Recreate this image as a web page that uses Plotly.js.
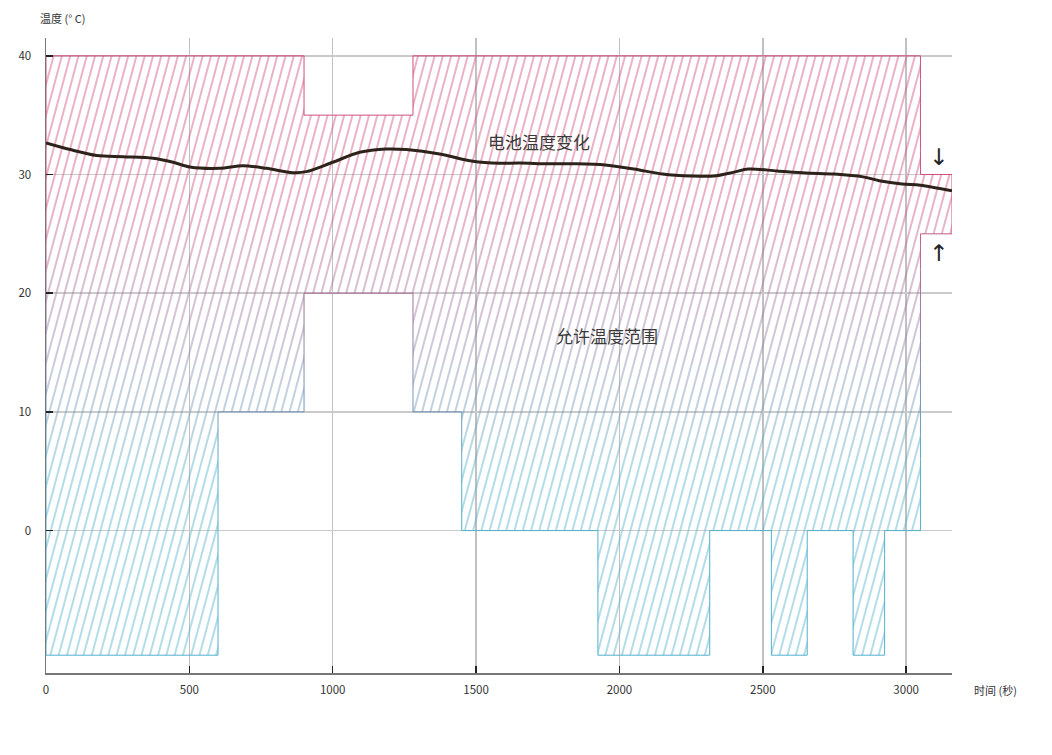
<!DOCTYPE html>
<html>
<head>
<meta charset="utf-8">
<script src="https://cdn.plot.ly/plotly-3.0.1.min.js"></script>
<style>
  html, body { margin: 0; padding: 0; background: #ffffff; }
  #chart { width: 1052px; height: 755px; }
</style>
</head>
<body>
<div id="chart"></div>
<script>
// ---------------- data ----------------
// battery temperature curve
const timeSec = [0, 84, 177, 269, 374, 443, 502, 606, 687, 769, 861, 908, 1000, 1094, 1187, 1257, 1373, 1489, 1581, 1651, 1750, 1850, 1950, 2050, 2150, 2250, 2330, 2400, 2450, 2550, 2650, 2750, 2850, 2906, 2986, 3050, 3160];
const batteryTemp = [32.66, 32.1, 31.6, 31.5, 31.37, 31.03, 30.63, 30.52, 30.74, 30.52, 30.15, 30.24, 31.03, 31.87, 32.15, 32.1, 31.73, 31.11, 30.94, 30.97, 30.9, 30.9, 30.8, 30.46, 30.04, 29.87, 29.87, 30.2, 30.46, 30.3, 30.13, 30.04, 29.8, 29.48, 29.2, 29.1, 28.63];

// allowed temperature range (step segments)
const rangeEdges = [0, 600, 900, 1280, 1450, 1925, 2315, 2530, 2655, 2815, 2925, 3050, 3160];
const rangeUpper = [40, 40, 35, 40, 40, 40, 40, 40, 40, 40, 40, 30];
const rangeLower = [-10.5, 10, 20, 10, 0, -10.5, 0, -10.5, 0, -10.5, 0, 25];

// axes
const xTicks = [0, 500, 1000, 1500, 2000, 2500, 3000];
const yTicks = [0, 10, 20, 30, 40];
const xRange = [0, 3160];
const yRange = [-12, 41.5];

// labels
const labelCurve = '电池温度变化';
const labelRange = '允许温度范围';
const yTitle = '温度 (° C)';
const xTitle = '时间 (秒)';

// ---------------- styling helpers ----------------
const PINK = [208, 78, 128];
const CYAN = [82, 176, 204];
function colorAt(y) {
  let t = (y - 5) / (28 - 5);
  t = Math.max(0, Math.min(1, t));
  const c = CYAN.map((v, i) => Math.round(v * (1 - t) + PINK[i] * t));
  return 'rgb(' + c.join(',') + ')';
}

const BAND = 2;
const bands = [];
for (let lo = -12; lo < 42; lo += BAND) bands.push([lo, lo + BAND]);

const traces = [];
const nSeg = rangeUpper.length;

// hatched fill, split into horizontal colour bands
bands.forEach(([lo, hi]) => {
  const xs = [], ys = [];
  let i = 0;
  while (i < nSeg) {
    const run = [];
    while (i < nSeg) {
      const a = Math.max(rangeLower[i], lo), b = Math.min(rangeUpper[i], hi);
      if (b > a) { run.push([i, a, b]); i++; } else { i++; break; }
    }
    if (run.length) {
      const startX = rangeEdges[run[0][0]], startY = run[0][2];
      run.forEach(([k, a, b]) => { xs.push(rangeEdges[k], rangeEdges[k + 1]); ys.push(b, b); });
      for (let r = run.length - 1; r >= 0; r--) {
        const [k, a] = run[r];
        xs.push(rangeEdges[k + 1], rangeEdges[k]); ys.push(a, a);
      }
      xs.push(startX); ys.push(startY);
      xs.push(null); ys.push(null);
    }
  }
  if (!xs.length) return;
  const col = colorAt((lo + hi) / 2);
  traces.push({
    type: 'scatter', mode: 'lines', x: xs, y: ys, fill: 'toself',
    fillcolor: 'rgba(0,0,0,0)',
    fillpattern: { shape: '|', fgcolor: col, bgcolor: 'rgba(0,0,0,0)', size: 8, solidity: 0.11 },
    line: { width: 0, color: 'rgba(0,0,0,0)' },
    hoverinfo: 'skip', showlegend: false
  });
});

// outline of the allowed range, coloured by height
const outline = [];
for (let k = 0; k < nSeg; k++) {
  outline.push([rangeEdges[k], rangeUpper[k]], [rangeEdges[k + 1], rangeUpper[k]]);
}
for (let k = nSeg - 1; k >= 0; k--) {
  outline.push([rangeEdges[k + 1], rangeLower[k]], [rangeEdges[k], rangeLower[k]]);
}
outline.push(outline[0]);
const outlineByBand = bands.map(() => ({ x: [], y: [] }));
function bandIndex(y) {
  let idx = Math.floor((y - (-12)) / BAND);
  return Math.max(0, Math.min(bands.length - 1, idx));
}
for (let p = 0; p < outline.length - 1; p++) {
  const [x0, y0] = outline[p], [x1, y1] = outline[p + 1];
  if (x0 === x1 && y0 === y1) continue;
  if (y0 === y1) {
    const b = outlineByBand[bandIndex(y0)];
    b.x.push(x0, x1, null); b.y.push(y0, y1, null);
  } else {
    const ya = Math.min(y0, y1), yb = Math.max(y0, y1);
    bands.forEach(([lo, hi], bi) => {
      const a = Math.max(ya, lo), c = Math.min(yb, hi);
      if (c > a) { outlineByBand[bi].x.push(x0, x0, null); outlineByBand[bi].y.push(a, c, null); }
    });
  }
}
outlineByBand.forEach((o, bi) => {
  if (!o.x.length) return;
  traces.push({
    type: 'scatter', mode: 'lines', x: o.x, y: o.y,
    line: { width: 1, color: colorAt((bands[bi][0] + bands[bi][1]) / 2) },
    hoverinfo: 'skip', showlegend: false, connectgaps: false
  });
});

// temperature curve
traces.push({
  type: 'scatter', mode: 'lines', x: timeSec, y: batteryTemp,
  line: { color: '#2e231b', width: 3, shape: 'spline', smoothing: 0.9 },
  showlegend: false
});

const FONT = '"Noto Sans CJK SC", "Noto Sans", sans-serif';

const layout = {
  width: 1052, height: 755,
  margin: { l: 46, r: 100, t: 38, b: 82 },
  paper_bgcolor: '#ffffff', plot_bgcolor: '#ffffff',
  font: { family: FONT, size: 11, color: '#333' },
  showlegend: false,
  xaxis: {
    range: xRange, tickvals: xTicks, ticktext: xTicks.map(String),
    showgrid: true, gridcolor: '#c0c0c0', gridwidth: 1.5,
    zeroline: false, showline: true, linecolor: '#777', linewidth: 1.5,
    ticks: 'inside', ticklen: 7, tickwidth: 1.5, tickcolor: '#222',
    tickfont: { family: FONT, size: 11.5, color: '#333' },
    ticklabelstandoff: 6
  },
  yaxis: {
    range: yRange, tickvals: yTicks, ticktext: yTicks.map(String),
    showgrid: true, gridcolor: '#cacaca', gridwidth: 1.5,
    zeroline: false, showline: true, linecolor: '#777', linewidth: 1.5,
    ticks: 'inside', ticklen: 7, tickwidth: 1.5, tickcolor: '#222',
    tickfont: { family: FONT, size: 11.5, color: '#333' },
    ticklabelstandoff: 11
  },
  annotations: [
    { text: labelCurve, x: 1721, y: 32.75, xref: 'x', yref: 'y', showarrow: false,
      font: { family: FONT, size: 17, color: '#3a3a3a' } },
    { text: labelRange, x: 1955, y: 16.4, xref: 'x', yref: 'y', showarrow: false,
      font: { family: FONT, size: 17, color: '#3a3a3a' } },
    { text: '↓', x: 3112, y: 31.5, xref: 'x', yref: 'y', showarrow: false,
      font: { family: '"DejaVu Sans", sans-serif', size: 23, color: '#222' } },
    { text: '↑', x: 3112, y: 23.4, xref: 'x', yref: 'y', showarrow: false,
      font: { family: '"DejaVu Sans", sans-serif', size: 23, color: '#222' } },
    { text: yTitle, x: -0.009, y: 1.032, xref: 'paper', yref: 'paper', xanchor: 'left', yanchor: 'middle',
      showarrow: false, font: { family: FONT, size: 11, color: '#333' } },
    { text: xTitle, x: 1.022, y: -0.026, xref: 'paper', yref: 'paper', xanchor: 'left', yanchor: 'middle',
      showarrow: false, font: { family: FONT, size: 11, color: '#333' } }
  ]
};

Plotly.newPlot('chart', traces, layout, { displayModeBar: false, staticPlot: true }).then(gd => {
  gd.querySelectorAll('pattern').forEach(p => p.setAttribute('patternTransform', 'rotate(15)'));
});
</script>
</body>
</html>
